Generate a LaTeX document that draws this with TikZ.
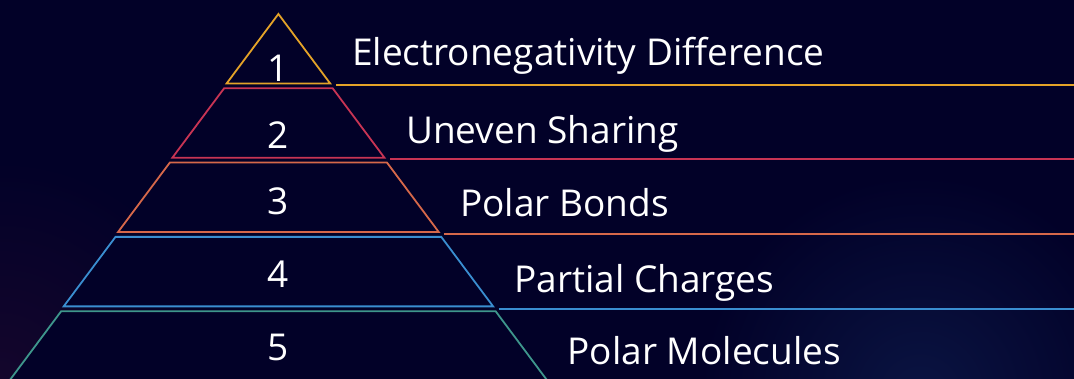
\documentclass[tikz,border=0pt]{standalone}
\usepackage{fontspec}
\setmainfont{Open Sans}
\definecolor{bg}{RGB}{2,1,40}
\definecolor{glowp}{RGB}{20,6,44}
\definecolor{glowb}{RGB}{10,20,66}
\definecolor{cgold}{RGB}{228,163,40}
\definecolor{ccrim}{RGB}{200,52,84}
\definecolor{corng}{RGB}{214,104,74}
\definecolor{cblue}{RGB}{58,142,208}
\definecolor{cteal}{RGB}{62,150,140}
\begin{document}
\begin{tikzpicture}[x=1pt,y=-1pt,
  tier/.style={line width=1.8pt, line join=miter, fill=bg},
  ext/.style={line width=1.6pt},
  num/.style={text=white, font=\fontsize{37}{40}\selectfont, anchor=base, inner sep=0pt},
  lbl/.style={text=white, font=\fontsize{37}{40}\selectfont, anchor=base west, inner sep=0pt}]
\fill[bg] (0,0) rectangle (1074,379);
\useasboundingbox (0,0) rectangle (1074,379);
\begin{scope}
\clip (0,0) rectangle (1074,379);
\shade[inner color=glowp, outer color=bg] (0,379) circle (220);
\shade[inner color=glowb, outer color=bg] (920,395) circle (220);
% tier corners
\coordinate (a1) at (278.4,14);
\coordinate (b1r) at (330.2,83.5);
\coordinate (b1l) at (226.6,83.5);
\coordinate (t2l) at (224.1,88.3);
\coordinate (t2r) at (332.7,88.3);
\coordinate (b2r) at (384.5,157.8);
\coordinate (b2l) at (172.3,157.8);
\coordinate (t3l) at (169.8,162.6);
\coordinate (t3r) at (387.0,162.6);
\coordinate (b3r) at (438.8,232.1);
\coordinate (b3l) at (118.0,232.1);
\coordinate (t4l) at (115.5,236.9);
\coordinate (t4r) at (441.3,236.9);
\coordinate (b4r) at (493.1,306.4);
\coordinate (b4l) at (63.7,306.4);
\coordinate (t5l) at (61.2,311.2);
\coordinate (t5r) at (495.6,311.2);
\coordinate (b5r) at (547.4,380.7);
\coordinate (b5l) at (9.4,380.7);
\draw[tier, draw=cgold] (a1) -- (b1r) -- (b1l) -- cycle;
\draw[tier, draw=ccrim] (t2l) -- (t2r) -- (b2r) -- (b2l) -- cycle;
\draw[tier, draw=corng] (t3l) -- (t3r) -- (b3r) -- (b3l) -- cycle;
\draw[tier, draw=cblue] (t4l) -- (t4r) -- (b4r) -- (b4l) -- cycle;
\draw[tier, draw=cteal] (t5l) -- (t5r) -- (b5r) -- (b5l) -- cycle;
% extension lines
\coordinate (e1) at (336.0,85.2);   \coordinate (f1) at (1074,85.2);
\coordinate (e2) at (390.0,159.2);  \coordinate (f2) at (1074,159.2);
\coordinate (e3) at (444.3,234.0);  \coordinate (f3) at (1074,234.0);
\coordinate (e4) at (498.6,309.0);  \coordinate (f4) at (1074,309.0);
\draw[ext, cgold] (e1) -- (f1);
\draw[ext, ccrim] (e2) -- (f2);
\draw[ext, corng] (e3) -- (f3);
\draw[ext, cblue] (e4) -- (f4);
\end{scope}
% numbers
\node[num] (n1) at (278.4,81.7) {1};
\node[num] (n2) at (278.4,148.3) {2};
\node[num] (n3) at (278.4,214.3) {3};
\node[num] (n4) at (278.4,287.7) {4};
\node[num] (n5) at (278.4,360.5) {5};
% labels
\node[lbl] (l1) at (352,66) {Electronegativity Difference};
\node[lbl] (l2) at (406,143.3) {Uneven Sharing};
\node[lbl] (l3) at (460,216.7) {Polar Bonds};
\node[lbl] (l4) at (514,292.7) {Partial Charges};
\node[lbl] (l5) at (567.5,365) {Polar Molecules};
\end{tikzpicture}
\end{document}
